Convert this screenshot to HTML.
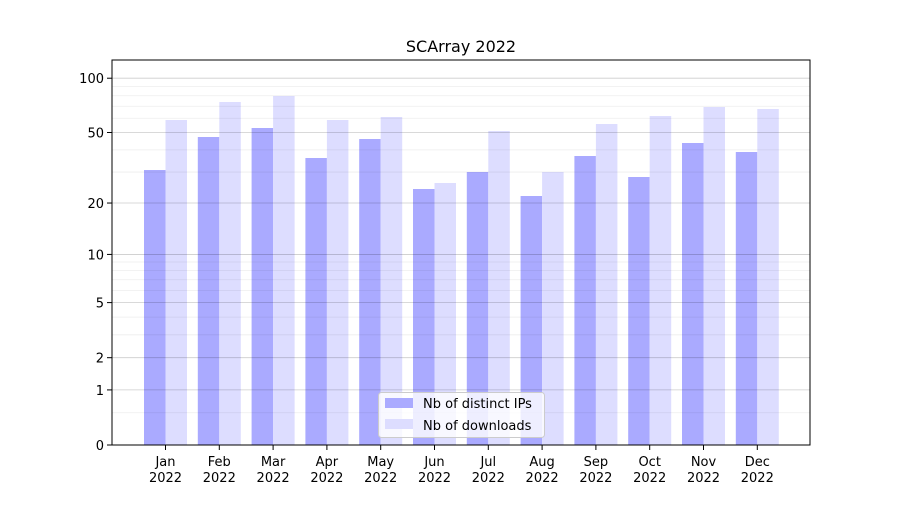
<!DOCTYPE html>
<html><head><style>body{margin:0;background:#fff}</style></head><body>
<svg width="900" height="500" xmlns="http://www.w3.org/2000/svg" font-family="DejaVu Sans, Liberation Sans, sans-serif">
<rect width="900" height="500" fill="#fff"/>
<g id="bars"></g>
<g id="grid"></g>
<rect x="112" y="60" width="698" height="385" fill="none" stroke="#000" stroke-width="1"/>
<text x="461" y="52" font-size="16" text-anchor="middle">SCArray 2022</text>
<g id="yt" font-size="13" text-anchor="end"></g>
<g id="xt" font-size="13" text-anchor="middle"></g>
<g>
<rect x="378.5" y="392.5" width="166" height="45" rx="3" fill="#fff" fill-opacity="0.8" stroke="#ccc"/>
<rect x="385" y="398" width="28" height="10" fill="#aaaaff"/>
<text x="423" y="408" font-size="13">Nb of distinct IPs</text>
<rect x="385" y="419" width="28" height="10" fill="#ddddff"/>
<text x="423" y="430" font-size="13">Nb of downloads</text>
</g>
<script>
const ns="http://www.w3.org/2000/svg";
function Y(v){return 445-183*Math.log10(1+v);}
function el(t,a,p,txt){const e=document.createElementNS(ns,t);for(const k in a)e.setAttribute(k,a[k]);if(txt!==undefined)e.textContent=txt;document.getElementById(p).appendChild(e);return e;}
[0.5,3,4,6,7,8,9,30,40,60,70,80,90].forEach(v=>{const y=Y(v);el('line',{x1:112,x2:810,y1:y,y2:y,stroke:'rgba(0,0,0,0.07)','stroke-width':0.8},'grid');});
[1,2,5,10,20,50,100].forEach(v=>{const y=Y(v);el('line',{x1:112,x2:810,y1:y,y2:y,stroke:'rgba(0,0,0,0.2)','stroke-width':0.8},'grid');});
[0,1,2,5,10,20,50,100].forEach(v=>{const y=Y(v);el('line',{x1:107,x2:112,y1:y,y2:y,stroke:'#000'},'yt');el('text',{x:104,y:y+5},'yt',String(v));});
const blue=[170,137,128,158,139,189,172,196,156,177,143,152];
const light=[120,102,96,120,117,183,131,172,124,116,107,109];
const m=['Jan','Feb','Mar','Apr','May','Jun','Jul','Aug','Sep','Oct','Nov','Dec'];
for(let i=0;i<12;i++){const c=165.5+i*53.8;
el('rect',{x:c-21.5,y:blue[i],width:21.5,height:445-blue[i],fill:'#aaaaff'},'bars');
el('rect',{x:c,y:light[i],width:21.5,height:445-light[i],fill:'#ddddff'},'bars');
el('line',{x1:c,x2:c,y1:445,y2:450,stroke:'#000'},'xt');
el('text',{x:c,y:466},'xt',m[i]);el('text',{x:c,y:482},'xt','2022');}
</script>
</svg>
</body></html>
